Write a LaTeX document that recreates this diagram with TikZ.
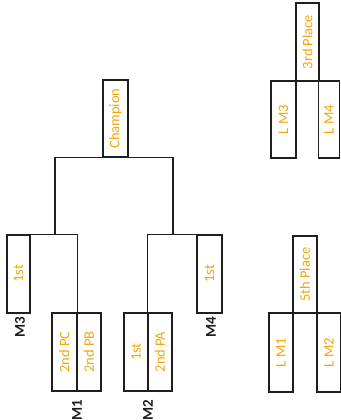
\documentclass[tikz,border=0pt]{standalone}
\usepackage{fontspec}
\setmainfont{Carlito}
\definecolor{gold}{RGB}{242,166,10}
\definecolor{ink}{RGB}{30,30,30}
\begin{document}
\begin{tikzpicture}[x=1pt,y=-1pt,
  box/.style={draw=ink,line width=1.2pt,rectangle,inner sep=0pt,text=gold,font=\fontsize{14.5}{16}\selectfont},
  mlabel/.style={inner sep=0pt,text=ink,font=\fontsize{15}{17}\selectfont\bfseries},
  link/.style={draw=ink,line width=1.2pt}]
\useasboundingbox (0,0) rectangle (340,420);
\fill[white] (0,0) rectangle (340,420);
% main bracket
\node[box,minimum width=25pt,minimum height=77pt] (champ) at (115.5,118.5) {\rotatebox{90}{Champion}};
\node[box,minimum width=23pt,minimum height=78pt] (m3) at (18.5,274) {\rotatebox{90}{1st}};
\node[box,minimum width=25pt,minimum height=78pt] (m1a) at (64.5,352) {\rotatebox{90}{2nd PC}};
\node[box,minimum width=24pt,minimum height=78pt] (m1b) at (89,352) {\rotatebox{90}{2nd PB}};
\node[box,minimum width=24pt,minimum height=78pt] (m2a) at (136,352) {\rotatebox{90}{1st}};
\node[box,minimum width=24pt,minimum height=78pt] (m2b) at (160,352) {\rotatebox{90}{2nd PA}};
\node[box,minimum width=25pt,minimum height=78pt] (m4) at (209.5,274) {\rotatebox{90}{1st}};
\node[mlabel,anchor=north] (lm3) at (20,317) {\rotatebox{90}{M3}};
\node[mlabel] (lm1) at (77,410) {\rotatebox{90}{M1}};
\node[mlabel] (lm2) at (148,410) {\rotatebox{90}{M2}};
\node[mlabel,anchor=north] (lm4) at (211,317) {\rotatebox{90}{M4}};
\coordinate (lj) at (55,235);
\coordinate (rj) at (173,235);
\draw[link] (m3.north west) -| (m1a.north east);
\draw[link] (m2b.north west) |- (m4.north east);
\draw[link] (lj) |- (champ.south) -| (rj);
% 3rd place
\node[box,minimum width=23pt,minimum height=78pt] (third) at (307.5,42) {\rotatebox{90}{3rd Place}};
\node[box,minimum width=25pt,minimum height=77pt] (lm3b) at (283.5,119.5) {\rotatebox{90}{L M3}};
\node[box,minimum width=21pt,minimum height=77pt] (lm4b) at (329,119.5) {\rotatebox{90}{L M4}};
% 5th place
\node[box,minimum width=24pt,minimum height=77pt] (fifth) at (305,274.5) {\rotatebox{90}{5th Place}};
\node[box,minimum width=24pt,minimum height=79pt] (lm1b) at (281,352.5) {\rotatebox{90}{L M1}};
\node[box,minimum width=24pt,minimum height=79pt] (lm2b) at (329,352.5) {\rotatebox{90}{L M2}};
\end{tikzpicture}
\end{document}
